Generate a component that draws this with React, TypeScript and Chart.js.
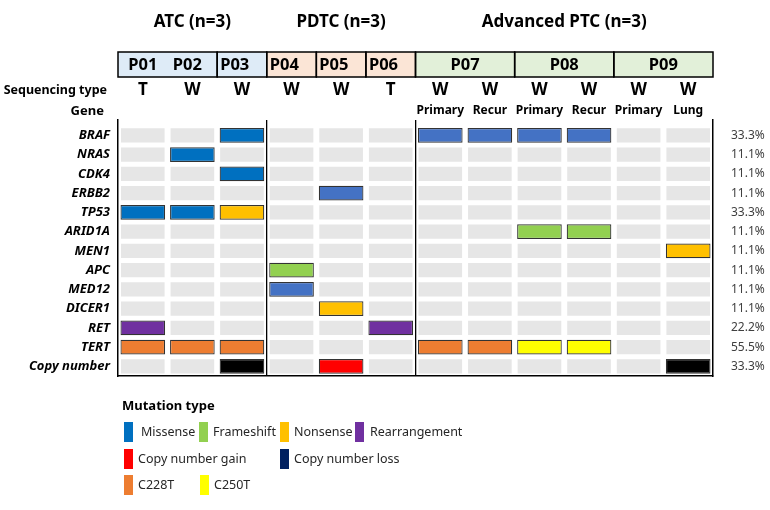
import { useEffect, useRef } from 'react';
import { Chart, registerables } from 'chart.js';

Chart.register(...registerables);

const FONT = "'Noto Sans', 'DejaVu Sans', sans-serif";

// ---------- data ----------
const groupTitles = ['ATC (n=3)', 'PDTC (n=3)', 'Advanced PTC (n=3)'];
const groupSpans = [[0, 3], [3, 6], [6, 12]];
const groupFills = ['#deebf7', '#fbe5d6', '#e2f0d9'];

const samples = ['P01', 'P02', 'P03', 'P04', 'P05', 'P06', 'P07 Primary', 'P07 Recur', 'P08 Primary', 'P08 Recur', 'P09 Primary', 'P09 Lung'];
const seqTypes = ['T', 'W', 'W', 'W', 'W', 'T', 'W', 'W', 'W', 'W', 'W', 'W'];
const siteLabels = ['', '', '', '', '', '', 'Primary', 'Recur', 'Primary', 'Recur', 'Primary', 'Lung'];

const patientNames = ['P01', 'P02', 'P03', 'P04', 'P05', 'P06', 'P07', 'P08', 'P09'];
const patientCols = [[0, 1], [1, 2], [2, 3], [3, 4], [4, 5], [5, 6], [6, 8], [8, 10], [10, 12]];
const headerBoxes = [[0, 2], [2, 3], [3, 4], [4, 5], [5, 6], [6, 8], [8, 10], [10, 12]];
const headerBoxGroup = [0, 0, 1, 1, 1, 2, 2, 2];

const genes = ['BRAF', 'NRAS', 'CDK4', 'ERBB2', 'TP53', 'ARID1A', 'MEN1', 'APC', 'MED12', 'DICER1', 'RET', 'TERT', 'Copy number'];
const frequencies = ['33.3%', '11.1%', '11.1%', '11.1%', '33.3%', '11.1%', '11.1%', '11.1%', '11.1%', '11.1%', '22.2%', '55.5%', '33.3%'];

// codes: M missense, m missense (lighter blue), F frameshift, N nonsense, R rearrangement,
// G copy number gain, L copy number loss, A C228T, B C250T
const mutBRAF = ['', '', 'M', '', '', '', 'm', 'm', 'm', 'm', '', ''];
const mutNRAS = ['', 'M', '', '', '', '', '', '', '', '', '', ''];
const mutCDK4 = ['', '', 'M', '', '', '', '', '', '', '', '', ''];
const mutERBB2 = ['', '', '', '', 'm', '', '', '', '', '', '', ''];
const mutTP53 = ['M', 'M', 'N', '', '', '', '', '', '', '', '', ''];
const mutARID1A = ['', '', '', '', '', '', '', '', 'F', 'F', '', ''];
const mutMEN1 = ['', '', '', '', '', '', '', '', '', '', '', 'N'];
const mutAPC = ['', '', '', 'F', '', '', '', '', '', '', '', ''];
const mutMED12 = ['', '', '', 'm', '', '', '', '', '', '', '', ''];
const mutDICER1 = ['', '', '', '', 'N', '', '', '', '', '', '', ''];
const mutRET = ['R', '', '', '', '', 'R', '', '', '', '', '', ''];
const mutTERT = ['A', 'A', 'A', '', '', '', 'A', 'A', 'B', 'B', '', ''];
const mutCopy = ['', '', 'L', '', 'G', '', '', '', '', '', '', 'L'];
const mutations = [mutBRAF, mutNRAS, mutCDK4, mutERBB2, mutTP53, mutARID1A, mutMEN1, mutAPC, mutMED12, mutDICER1, mutRET, mutTERT, mutCopy];

const codeColors: Record<string, string> = {
  M: '#0070c0', m: '#4472c4', F: '#92d050', N: '#ffc000', R: '#7030a0',
  G: '#ff0000', L: '#000000', A: '#ed7d31', B: '#ffff00',
};

const legendTitle = 'Mutation type';
const legendRow1 = ['Missense', 'Frameshift', 'Nonsense', 'Rearrangement'];
const legendRow1Colors = ['#0070c0', '#92d050', '#ffc000', '#7030a0'];
const legendRow2 = ['Copy number gain', 'Copy number loss'];
const legendRow2Colors = ['#ff0000', '#002060'];
const legendRow3 = ['C228T', 'C250T'];
const legendRow3Colors = ['#ed7d31', '#ffff00'];

// ---------- layout ----------
const legendRowX = [[124, 199, 280, 355], [124, 280], [124, 200]];
const legendRowY = [432, 459, 485];
const legendLabelGap = [[17, 14, 14, 15], [14, 14], [14, 14]];

const headerPlugin = {
  id: 'headerAndLegend',
  afterDraw(chart: any) {
    const ctx = chart.ctx as CanvasRenderingContext2D;
    const area = chart.chartArea;
    const xs = chart.scales.x;
    const n = samples.length;
    const w = (area.right - area.left) / n;
    const edge = (k: number) => area.left + k * w;
    const center = (i: number) => xs.getPixelForValue(i);
    ctx.save();
    ctx.textBaseline = 'middle';

    // group titles
    ctx.fillStyle = '#000';
    ctx.textAlign = 'center';
    ctx.font = `bold 17px ${FONT}`;
    groupSpans.forEach(([a, b], gi) => {
      ctx.fillText(groupTitles[gi], (edge(a) + edge(b)) / 2, 22);
    });

    // patient boxes
    const boxTop = 52;
    const boxH = 25;
    headerBoxes.forEach(([a, b], bi) => {
      ctx.fillStyle = groupFills[headerBoxGroup[bi]];
      ctx.fillRect(edge(a), boxTop, edge(b) - edge(a), boxH);
    });
    ctx.strokeStyle = '#000';
    ctx.lineWidth = 1.5;
    headerBoxes.forEach(([a, b]) => {
      ctx.strokeRect(edge(a), boxTop, edge(b) - edge(a), boxH);
    });
    ctx.fillStyle = '#000';
    ctx.font = `bold 16.5px ${FONT}`;
    patientNames.forEach((name, pi) => {
      const [a, b] = patientCols[pi];
      if (b - a > 1) {
        ctx.textAlign = 'center';
        ctx.fillText(name, (edge(a) + edge(b)) / 2, boxTop + boxH / 2 + 1);
      } else if (pi < 2) {
        ctx.textAlign = 'center';
        ctx.fillText(name, center(a) + (pi === 1 ? -5 : 0), boxTop + boxH / 2 + 1);
      } else {
        ctx.textAlign = 'left';
        ctx.fillText(name, edge(a) + 3, boxTop + boxH / 2 + 1);
      }
    });

    // sequencing type row
    ctx.textAlign = 'right';
    ctx.font = `bold 12.5px ${FONT}`;
    ctx.fillText('Sequencing type', 107, 90);
    ctx.font = `bold 13px ${FONT}`;
    ctx.fillText('Gene', 104, 111);
    ctx.textAlign = 'center';
    ctx.font = `bold 17px ${FONT}`;
    seqTypes.forEach((t, i) => ctx.fillText(t, center(i), 90));
    ctx.font = `bold 12px ${FONT}`;
    siteLabels.forEach((t, i) => { if (t) ctx.fillText(t, center(i), 111); });

    // legend
    ctx.textAlign = 'left';
    ctx.font = `bold 13px ${FONT}`;
    ctx.fillStyle = '#000';
    ctx.fillText(legendTitle, 122, 406);
    const rows = [legendRow1, legendRow2, legendRow3];
    const rowColors = [legendRow1Colors, legendRow2Colors, legendRow3Colors];
    ctx.font = `12.5px ${FONT}`;
    rows.forEach((labels, ri) => {
      labels.forEach((label, li) => {
        const sx = legendRowX[ri][li];
        const sy = legendRowY[ri];
        ctx.fillStyle = rowColors[ri][li];
        ctx.fillRect(sx, sy - 10, 9, 20);
        ctx.fillStyle = '#262626';
        ctx.fillText(label, sx + legendLabelGap[ri][li], sy);
      });
    });
    ctx.restore();
  },
};

const HALF = 0.37;

export default function App() {
  const ref = useRef<HTMLCanvasElement | null>(null);

  useEffect(() => {
    if (!ref.current) return;
    const datasets: any[] = [];
    // mutation cells (drawn on top: earlier datasets are drawn last)
    mutations.forEach((row, r) => {
      const codes = Array.from(new Set(row.filter((c) => c)));
      codes.forEach((code) => {
        datasets.push({
          label: `${genes[r]} ${code}`,
          data: row.map((c) => (c === code ? [r - HALF - 0.01, r + HALF + 0.01] : null)),
          backgroundColor: codeColors[code],
          borderColor: '#333333',
          borderWidth: 1.2,
          borderSkipped: false,
          grouped: false,
          barPercentage: 0.9,
          categoryPercentage: 1,
          yAxisID: 'y',
        });
      });
    });
    // empty gray cells
    mutations.forEach((row, r) => {
      datasets.push({
        label: genes[r],
        data: row.map((c) => (c ? null : [r - HALF, r + HALF])),
        backgroundColor: '#e6e6e6',
        borderWidth: 0,
        grouped: false,
        barPercentage: 0.88,
        categoryPercentage: 1,
        yAxisID: 'y',
      });
    });

    const chart = new Chart(ref.current, {
      type: 'bar',
      data: { labels: samples, datasets },
      options: {
        responsive: false,
        animation: false,
        devicePixelRatio: 1,
        layout: { padding: { top: 120, bottom: 134, left: 0, right: 0 } },
        plugins: { legend: { display: false }, tooltip: { enabled: false } },
        scales: {
          x: {
            type: 'category',
            offset: true,
            ticks: { display: false },
            grid: {
              display: true,
              offset: true,
              drawTicks: false,
              lineWidth: 1.3,
              color: (c: any) => (c.index === 3 || c.index === 6 ? '#000000' : 'rgba(0,0,0,0)'),
            },
            border: { display: true, color: '#000', width: 1.5 },
            afterFit: (s: any) => { s.height = 0; },
          },
          y: {
            type: 'linear',
            position: 'left',
            min: -0.8,
            max: 12.5,
            reverse: true,
            afterBuildTicks: (s: any) => { s.ticks = genes.map((_, i) => ({ value: i })); },
            ticks: {
              autoSkip: false,
              padding: 8,
              color: '#000',
              font: { family: FONT, size: 13, weight: 'bold', style: 'italic' },
              callback: (v: any) => genes[v as number] ?? '',
            },
            grid: { display: false, drawTicks: false },
            border: { display: true, color: '#000', width: 1.5 },
            afterFit: (s: any) => { s.width = 118; },
          },
          y2: {
            type: 'linear',
            position: 'right',
            min: -0.8,
            max: 12.5,
            reverse: true,
            afterBuildTicks: (s: any) => { s.ticks = frequencies.map((_, i) => ({ value: i })); },
            ticks: {
              autoSkip: false,
              padding: 18,
              color: '#404040',
              font: { family: FONT, size: 12 },
              callback: (v: any) => frequencies[v as number] ?? '',
            },
            grid: { display: false, drawTicks: false },
            border: { display: true, color: '#000', width: 1.5 },
            afterFit: (s: any) => { s.width = 57; },
          },
        },
      },
      plugins: [headerPlugin],
    });
    return () => chart.destroy();
  }, []);

  return (
    <div style={{ position: 'absolute', left: 0, top: 0, width: 770, height: 510, background: '#fff' }}>
      <canvas ref={ref} width={770} height={510} style={{ width: 770, height: 510, display: 'block' }} />
    </div>
  );
}
